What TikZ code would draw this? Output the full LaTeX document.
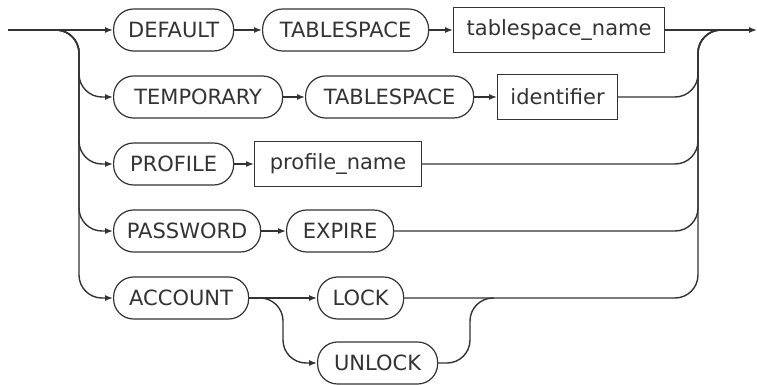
\documentclass[tikz,border=0pt]{standalone}
\usepackage{fontspec}
\setmainfont{DejaVu Sans}
\usetikzlibrary{arrows.meta}
\definecolor{railcolor0000}{RGB}{51,51,51}
\definecolor{railcolor0001}{RGB}{255,255,255}

\begin{document}
\begin{tikzpicture}[x=1pt,y=-1pt
,kwbox/.style={draw=railcolor0000,fill=railcolor0001,line width=1.2pt,rounded corners=20pt,minimum height=42pt,anchor=west,inner sep=0pt,text=railcolor0000,font=\fontsize{21}{25}\selectfont}
,namebox/.style={draw=railcolor0000,fill=railcolor0001,line width=1.2pt,minimum height=45pt,anchor=west,inner sep=0pt,text=railcolor0000,font=\fontsize{21}{25}\selectfont}
,rline/.style={color=railcolor0000,line width=1.4pt}
,rarrow/.style={rline,-{Latex[length=8pt,width=6pt]}}
,rbranch/.style={rline,rounded corners=23pt}
]
\useasboundingbox (0,0) rectangle (757,385);
% keywords and names, row by row
\node[kwbox,minimum width=120pt] (default) at (113,30) {DEFAULT};
\node[kwbox,minimum width=166pt] (tblspcA) at (262,30) {TABLESPACE};
\node[namebox,minimum width=211pt] (tblspcname) at (453,30) {tablespace\_name};
\node[kwbox,minimum width=169pt] (temporary) at (113,97) {TEMPORARY};
\node[kwbox,minimum width=168pt] (tblspcB) at (305,97) {TABLESPACE};
\node[namebox,minimum width=120pt] (identifier) at (497,97) {identifier};
\node[kwbox,minimum width=120pt] (profile) at (113,164) {PROFILE};
\node[namebox,minimum width=167pt] (profilename) at (254,164) {profile\_name};
\node[kwbox,minimum width=147pt] (password) at (113,231) {PASSWORD};
\node[kwbox,minimum width=107pt] (expire) at (286,231) {EXPIRE};
\node[kwbox,minimum width=135pt] (account) at (113,298) {ACCOUNT};
\node[kwbox,minimum width=86pt] (lock) at (317,298) {LOCK};
\node[kwbox,minimum width=120pt] (unlock) at (317,363) {UNLOCK};
\coordinate (start) at (8,30);
\coordinate (finish) at (757,30);
\coordinate (lsplit) at (55,30);
\coordinate (rjoin) at (720,30);
\coordinate (asplit) at (258,298);
\coordinate (ajoin) at (494,298);
% main line
\draw[rarrow] (start) -- (default.west);
\draw[rarrow] (default.east) -- (tblspcA.west);
\draw[rarrow] (tblspcA.east) -- (tblspcname.west);
\draw[rarrow] (tblspcname.east) -- (finish);
\draw[rarrow] (temporary.east) -- (tblspcB.west);
\draw[rarrow] (tblspcB.east) -- (identifier.west);
\draw[rarrow] (profile.east) -- (profilename.west);
\draw[rarrow] (password.east) -- (expire.west);
\draw[rarrow] (account.east) -- (lock.west);
% branches
\foreach \n in {temporary,profile,password,account}
  \draw[rbranch,-{Latex[length=8pt,width=6pt]}] (lsplit) -- ++(24,0) |- (\n.west);
\foreach \n in {identifier,profilename,expire,lock}
  \draw[rbranch] (\n.east) -| ([xshift=-22pt]rjoin) -- (rjoin);
\draw[rbranch,-{Latex[length=8pt,width=6pt]}] (asplit) -- ++(25,0) |- (unlock.west);
\draw[rbranch] (unlock.east) -| ([xshift=-24pt]ajoin) -- (ajoin);
\end{tikzpicture}
\end{document}
